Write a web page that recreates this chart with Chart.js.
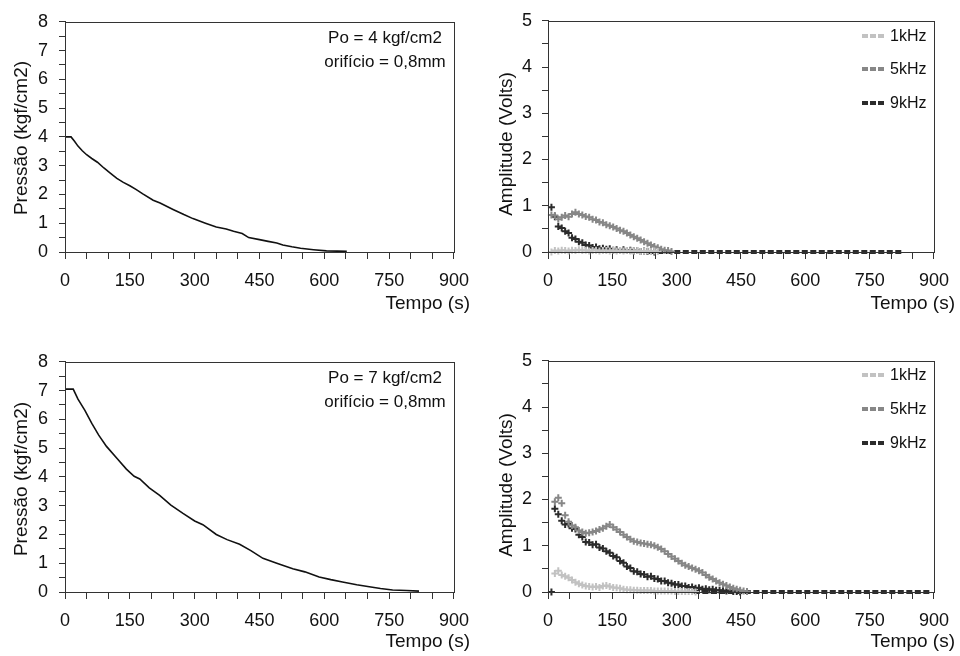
<!DOCTYPE html>
<html><head><meta charset="utf-8">
<script src="https://cdn.jsdelivr.net/npm/chart.js@4.4.1/dist/chart.umd.min.js"></script>
<style>
html,body{margin:0;padding:0;background:#fff;}
#wrap{position:relative;width:960px;height:656px;overflow:hidden;}
canvas{position:absolute;}
</style></head><body>
<div id="wrap">
<canvas id="c1" width="480" height="340" style="left:0;top:0"></canvas>
<canvas id="c2" width="480" height="340" style="left:480px;top:0"></canvas>
<canvas id="c3" width="480" height="316" style="left:0;top:340px"></canvas>
<canvas id="c4" width="480" height="316" style="left:480px;top:340px"></canvas>
</div>
<script>
// ---------- DATA ----------
// Pressure decay, Po = 4 kgf/cm2
const tP4 = [0,14,22,30,40,50,62,75,90,104,120,135,150,165,180,204,220,250,275,296,325,350,373,390,410,425,450,470,490,504,525,545,575,605,630,652];
const pP4 = [4.0,4.0,3.85,3.68,3.52,3.38,3.25,3.12,2.92,2.75,2.56,2.42,2.30,2.17,2.02,1.80,1.70,1.48,1.30,1.16,1.00,0.87,0.80,0.72,0.64,0.50,0.43,0.37,0.31,0.24,0.18,0.13,0.08,0.04,0.03,0.02];
// Pressure decay, Po = 7 kgf/cm2
const tP7 = [0,19,30,46,62,78,96,120,142,160,173,195,219,245,273,300,319,350,375,404,430,458,490,527,555,588,615,642,675,704,730,758,790,819];
const pP7 = [7.05,7.05,6.70,6.31,5.86,5.45,5.06,4.65,4.27,4.02,3.93,3.62,3.36,3.02,2.73,2.47,2.34,2.00,1.82,1.66,1.44,1.17,1.00,0.81,0.70,0.52,0.43,0.35,0.25,0.18,0.12,0.07,0.05,0.03];

// Amplitude, Po = 4
const tA4 = [8,16,24,32,40,48,56,64,72,80,88,96,104,112,120,128,136,144,152,160,168,176,184,192,200,208,216,224,232,240,248,256,264,272,280,288];
const a4_1k = [0.00,0.03,0.02,0.04,0.03,0.02,0.04,0.03,0.05,0.03,0.04,0.02,0.03,0.04,0.02,0.03,0.03,0.02,0.04,0.02,0.03,0.02,0.03,0.02,0.02,0.03,0.01,0.02,0.02,0.01,0.02,0.01,null,null,null,null];
const a4_5k = [0.80,0.79,0.71,0.75,0.79,0.76,0.82,0.86,0.82,0.80,0.77,0.75,0.71,0.69,0.65,0.63,0.59,0.57,0.54,0.51,0.47,0.45,0.41,0.37,0.33,0.30,0.26,0.22,0.19,0.15,0.12,0.09,0.06,0.04,0.03,0.01];
const a4_9k = [0.97,0.76,0.55,0.52,0.45,0.41,0.31,0.28,0.22,0.20,0.15,0.14,0.10,0.11,0.07,0.08,0.06,0.07,0.04,0.05,0.03,0.05,0.03,0.04,0.02,0.03,0.01,0.02,0.01,0.01,0.00,null,null,null,null,null];
const zero4 = [235, 826];   // 9 kHz reading stays at zero between these times

// Amplitude, Po = 7
const tA7 = [8,16,24,32,40,48,56,64,72,80,88,96,104,112,120,128,136,144,152,160,168,176,184,192,200,208,216,224,232,240,248,256,264,272,280,288,296,304,312,320,328,336,344,352,360,368,376,384,392,400,408,416,424,432,440,448,456,464];
const a7_1k = [null,0.40,0.46,0.37,0.34,0.31,0.26,0.21,0.18,0.15,0.13,0.12,0.11,0.12,0.10,0.13,0.14,0.12,0.10,0.09,0.08,0.06,0.05,0.05,0.04,0.04,0.03,0.03,0.03,0.03,0.02,0.02,0.02,0.02,0.02,0.02,0.01,0.01,0.01,0.01,0.01,0.01,0.00,null,null,null,null,null,null,null,null,null,null,null,null,null,null,null];
const a7_5k = [null,1.95,2.04,1.92,1.66,1.52,1.44,1.40,1.33,1.30,1.27,1.28,1.30,1.32,1.35,1.38,1.42,1.46,1.40,1.35,1.30,1.24,1.19,1.14,1.10,1.08,1.06,1.05,1.03,1.02,1.00,0.97,0.93,0.88,0.82,0.77,0.72,0.67,0.62,0.58,0.55,0.52,0.49,0.46,0.42,0.37,0.32,0.28,0.24,0.20,0.17,0.14,0.11,0.08,0.06,0.04,0.02,0.01];
const a7_9k = [0.00,1.80,1.68,1.54,1.46,1.47,1.38,1.36,1.24,1.19,1.08,1.07,1.02,1.03,0.96,0.94,0.88,0.85,0.78,0.75,0.67,0.63,0.55,0.52,0.45,0.44,0.39,0.38,0.33,0.34,0.29,0.28,0.24,0.24,0.20,0.19,0.16,0.16,0.13,0.13,0.10,0.11,0.08,0.09,0.06,0.07,0.05,0.06,0.04,0.04,0.03,0.02,0.03,0.01,0.01,0.00,null,null];
const zero7 = [340, 895];

const seriesNames = ['1kHz','5kHz','9kHz'];
const seriesColors = ['#c2c2c2','#878787','#2b2b2b'];

// ---------- HELPERS ----------
Chart.defaults.font.family = '"Liberation Sans", Arial, Helvetica, sans-serif';
Chart.defaults.color = '#111';

const pts = (t, v) => t.map((x, i) => ({x, y: v[i]}));

const decor = {
  id: 'decor',
  afterDraw(chart, args, o) {
    const {ctx, chartArea: a} = chart;
    ctx.save();
    ctx.strokeStyle = '#333'; ctx.lineWidth = 1; ctx.setLineDash([]);
    ctx.strokeRect(Math.round(a.left) + 0.5, Math.round(a.top) + 0.5, Math.round(a.right - a.left), Math.round(a.bottom - a.top));
    ctx.fillStyle = '#111';
    ctx.font = '19px "Liberation Sans", Arial, sans-serif';
    ctx.textBaseline = 'middle';
    ctx.textAlign = 'right';
    ctx.fillText(o.xTitle, o.xTitleX, o.xTitleY);
    ctx.save();
    ctx.translate(o.yTitleX, o.yTitleY); ctx.rotate(-Math.PI / 2);
    ctx.textAlign = 'center';
    ctx.fillText(o.yTitle, 0, 0);
    ctx.restore();
    if (o.notes) {
      ctx.font = '17px "Liberation Sans", Arial, sans-serif';
      ctx.textAlign = 'center';
      o.notes.forEach(n => ctx.fillText(n.text, n.x, n.y));
    }
    if (o.legend) {
      const items = chart.data.datasets.filter(d => d.inLegend);
      ctx.font = '16px "Liberation Sans", Arial, sans-serif';
      ctx.textAlign = 'left';
      items.forEach((d, i) => {
        const y = o.legend.y[i];
        ctx.save();
        ctx.strokeStyle = d.borderColor; ctx.lineWidth = 4; ctx.setLineDash([6, 2]);
        ctx.beginPath(); ctx.moveTo(o.legend.x, y); ctx.lineTo(o.legend.x + 23, y); ctx.stroke();
        ctx.restore();
        ctx.fillStyle = '#111';
        ctx.fillText(d.label, o.legend.x + 28, y + 1);
      });
    }
    ctx.restore();
  }
};

function panel(id, o) {
  const cv = document.getElementById(id);
  const H = cv.height;
  return new Chart(cv, {
    type: 'line',
    data: {datasets: o.datasets},
    options: {
      responsive: false, animation: false, events: [],
      layout: {padding: {top: 17, right: o.padRight, left: 0, bottom: 0}},
      plugins: {legend: {display: false}, tooltip: {enabled: false}, decor: o.decor},
      scales: {
        x: {
          type: 'linear', min: 0, max: 900,
          afterFit(s) { s.height = H - 252; },
          ticks: {stepSize: 50, autoSkip: false, maxRotation: 0, padding: 11, font: {size: 18}, color: '#111',
                  callback: v => (Math.round(v) % 150 === 0 ? String(Math.round(v)) : '')},
          grid: {drawOnChartArea: false, drawTicks: true, tickLength: 7, color: '#333'},
          border: {color: '#333', width: 1}
        },
        y: {
          type: 'linear', min: 0, max: o.ymax,
          afterFit(s) { s.width = o.yWidth; },
          ticks: {stepSize: 0.5, autoSkip: false, padding: o.yPad, font: {size: 18}, color: '#111',
                  callback: v => (Math.abs(v - Math.round(v)) < 1e-6 ? String(Math.round(v)) : '')},
          grid: {drawOnChartArea: false, drawTicks: true, tickLength: 6, color: '#333'},
          border: {color: '#333', width: 1}
        }
      }
    },
    plugins: [decor]
  });
}

function pressureSet(t, p) {
  return [{label: 'Pressão', data: pts(t, p), borderColor: '#111', borderWidth: 1.6, pointRadius: 0, tension: 0, fill: false}];
}
function ampSets(t, s1, s5, s9, zero) {
  const vals = [s1, s5, s9];
  const sets = vals.map((v, i) => ({
    label: seriesNames[i], inLegend: true, data: pts(t, v), showLine: false,
    pointStyle: 'cross', pointRadius: 3.5, pointBorderWidth: 2,
    borderColor: seriesColors[i], backgroundColor: seriesColors[i], clip: false
  }));
  sets.push({label: '9kHz zero', inLegend: false, data: [{x: zero[0], y: 0}, {x: zero[1], y: 0}],
    borderColor: seriesColors[2], borderWidth: 4, borderDash: [6, 2.5], pointRadius: 0, clip: false});
  return sets;
}

// ---------- CHARTS ----------
panel('c1', {
  datasets: pressureSet(tP4, pP4), ymax: 8, yWidth: 65, yPad: 11, padRight: 25,
  decor: {xTitle: 'Tempo (s)', xTitleX: 470, xTitleY: 304, yTitle: 'Pressão (kgf/cm2)', yTitleX: 22, yTitleY: 138,
          notes: [{text: 'Po = 4 kgf/cm2', x: 385, y: 38}, {text: 'orifício = 0,8mm', x: 385, y: 62}]}
});
panel('c2', {
  datasets: ampSets(tA4, a4_1k, a4_5k, a4_9k, zero4), ymax: 5, yWidth: 68, yPad: 10, padRight: 20,
  decor: {xTitle: 'Tempo (s)', xTitleX: 475, xTitleY: 304, yTitle: 'Amplitude (Volts)', yTitleX: 27, yTitleY: 144,
          legend: {x: 382, y: [36, 69, 103]}}
});
panel('c3', {
  datasets: pressureSet(tP7, pP7), ymax: 8, yWidth: 65, yPad: 11, padRight: 25,
  decor: {xTitle: 'Tempo (s)', xTitleX: 470, xTitleY: 302, yTitle: 'Pressão (kgf/cm2)', yTitleX: 22, yTitleY: 139,
          notes: [{text: 'Po = 7 kgf/cm2', x: 385, y: 38}, {text: 'orifício = 0,8mm', x: 385, y: 62}]}
});
panel('c4', {
  datasets: ampSets(tA7, a7_1k, a7_5k, a7_9k, zero7), ymax: 5, yWidth: 68, yPad: 10, padRight: 20,
  decor: {xTitle: 'Tempo (s)', xTitleX: 475, xTitleY: 302, yTitle: 'Amplitude (Volts)', yTitleX: 27, yTitleY: 145,
          legend: {x: 382, y: [35, 69, 103]}}
});
</script>
</body></html>
